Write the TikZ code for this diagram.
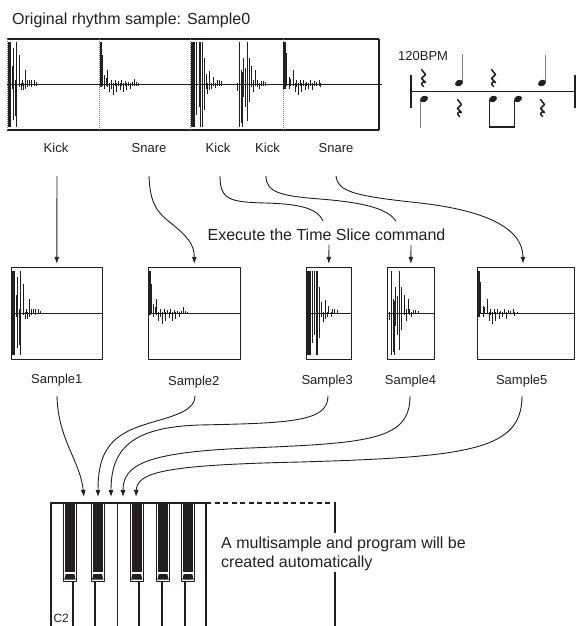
\documentclass[tikz,border=0pt]{standalone}
\usepackage{fontspec}
\setmainfont{Liberation Sans}
\usetikzlibrary{arrows.meta}
\definecolor{ink}{HTML}{231F20}
\newcommand\bigtxt{\fontsize{16}{19}\selectfont}
\newcommand\smtxt{\fontsize{13}{15}\selectfont}
\newcommand\cctxt{\fontsize{12}{14}\selectfont}
\newcommand\wave[3]{%
  \foreach \wa/\wb/\wc in #3 {\draw[wbar] ({#1+\wa},{#2-\wb*42}) -- ({#1+\wa},{#2+\wc*42});}}
\newcommand\qrest[2]{%
  \draw[ink, line width=1.5pt, line cap=round, shift={(#1,#2)}]
    (-1.5,-8.5) -- (2.5,-3.5) -- (-1.5,0.5) -- (2.5,4.5)
    .. controls (-1.5,2.5) and (-2.5,6.5) .. (0.5,8.5);}
\newcommand\nhead[2]{%
  \fill[ink, rotate around={25:(#1,#2)}] (#1,#2) ellipse (4.2 and 3);}
\def\kickA{1.2/1/1, 2.2/1/1, 3.2/1/1, 5/0.44/0.1, 6.3/0.86/0.84, 8/0.1/0.75, 9.7/1/1, 12.7/0.7/0.05, 14/0.03/0.14, 15/0.1/0.03, 16.7/0.03/0.14, 18.7/0.35/0.1, 20.7/0.1/0.05, 22.7/0.11/0.03, 24.7/0.1/0.05, 27/0.1/0.03, 29.3/0.06/0.03}
\def\snareA{1/1/0.05, 2/1/0.05, 3.3/0.7/0.03, 5.3/0.22/0.1, 7/0.15/0.03, 8.3/0.34/0.05, 10.3/0.03/0.18, 12/0.1/0.1, 14.3/0.03/0.26, 16/0.1/0.03, 17.7/0.03/0.18, 19.3/0.08/0.03, 21/0.03/0.12, 22.7/0.1/0.03, 24.3/0.03/0.18, 26/0.08/0.03, 27.7/0.03/0.14, 29.3/0.06/0.03, 31/0.03/0.1, 33.3/0.05/0.03, 35.3/0.14/0.03, 37.7/0.06/0.03, 39.3/0.03/0.03}
\def\kickB{1/1/1, 2/1/1, 3/1/1, 4/1/1, 6/1/0.72, 8.3/1/0.53, 10/1/1, 11.7/1/1, 13.7/0.62/0.6, 15.3/0.26/0.1, 17/0.03/0.22, 19/0.32/0.14, 21/0.03/0.1, 22.7/0.18/0.03, 25/0.03/0.08, 26.7/0.11/0.03, 28.7/0.1/0.03, 31/0.08/0.03}
\def\kickC{0.7/0.03/0.15, 2.7/1/1, 4.3/0.34/0.92, 5.7/0.3/1, 6.7/0.62/0.3, 8.3/0.4/0.53, 10.3/1/0.88, 12.7/0.62/0.41, 15/0.44/0.05, 17/0.1/0.18, 19/0.34/0.03, 20.7/0.1/0.05, 22.3/0.03/0.1, 24.3/0.08/0.03, 26.7/0.08/0.03, 29/0.06/0.03}
\def\snareB{0.6/1/0.1, 1.5/1/0.1, 2.4/1/0.1, 3.3/0.75/0.03, 6/0.18/0.1, 7.3/0.14/0.03, 10/0.34/0.03, 11.7/0.03/0.18, 13.3/0.11/0.05, 15/0.03/0.26, 16.7/0.1/0.03, 18.3/0.03/0.18, 20/0.1/0.03, 21.7/0.03/0.14, 23.3/0.06/0.03, 25/0.03/0.1, 27.3/0.1/0.03, 29/0.03/0.14, 31/0.08/0.03, 33.3/0.06/0.03, 35.7/0.11/0.03, 37.3/0.03/0.06, 40/0.02/0.02}
\begin{document}
\begin{tikzpicture}[x=1pt,y=-1pt, line join=round,
  every node/.style={text=ink, inner sep=0pt},
  lbl/.style={font=\smtxt, anchor=base},
  big/.style={font=\bigtxt, anchor=base west},
  sbox/.style={draw=ink, line width=1.1pt, minimum height=91.7pt},
  wbar/.style={draw=ink, line width=1pt},
  arr/.style={draw=ink, line width=0.9pt, -{Latex[length=7pt,width=5pt]}},
  divider/.style={draw=gray, densely dotted, line width=1pt},
  bkey/.style={draw=ink, line width=0.9pt, fill=white},
]
\useasboundingbox (0,0) rectangle (578,626);

% ---------- title ----------
\node[big] (title) at (12,25) {Original rhythm sample: Sample0};

% ---------- original sample box ----------
\draw[ink, line width=1.6pt] (7,39) -- (379,39);
\draw[ink, line width=1.6pt] (7,130) -- (379,130);
\draw[ink, line width=1.1pt] (379,39) -- (379,130);
\foreach \xx in {7,99,190.5,283.3} \draw[divider] (\xx,39) -- (\xx,130);
\draw[ink, line width=1pt] (7,84.5) -- (382,84.5);
\wave{7}{84.5}{\kickA}
\wave{99}{84.5}{\snareA}
\wave{190.7}{84.5}{\kickB}
\wave{236.7}{84.5}{\kickC}
\wave{283.3}{84.5}{\snareB}

% ---------- notation ----------
\node[font=\smtxt, anchor=base west] (bpm) at (398,60) {120BPM};
\draw[ink, line width=1pt] (411,91.7) -- (575,91.7);
\draw[ink, line width=2pt] (411,75) -- (411,108);
\draw[ink, line width=2pt] (575,75) -- (575,108);
\qrest{423}{78}
\qrest{493}{78}
\qrest{459}{108}
\qrest{542}{108}
\draw[gray, line width=0.9pt] (462.6,82) -- (462.6,54);
\draw[gray, line width=0.9pt] (545.6,82) -- (545.6,55);
\draw[gray, line width=0.9pt] (420.4,100) -- (420.4,128);
\draw[ink, line width=0.9pt] (489.4,100) -- (489.4,127);
\draw[ink, line width=0.9pt] (514.4,100) -- (514.4,127);
\draw[ink, line width=2pt] (489,127) -- (514.8,127);
\nhead{459}{83}
\nhead{542}{83}
\nhead{424}{99}
\nhead{493}{99}
\nhead{518}{99}

% ---------- labels ----------
\node[lbl] (l1) at (56,152) {Kick};
\node[lbl] (l2) at (149,152) {Snare};
\node[lbl] (l3) at (218,152) {Kick};
\node[lbl] (l4) at (267.5,152) {Kick};
\node[lbl] (l5) at (336,152) {Snare};
\coordinate (t1) at (57,176);
\coordinate (t2) at (149,176);
\coordinate (t3) at (220,176);
\coordinate (t4) at (266,176);
\coordinate (t5) at (336,176);
\coordinate (e3) at (323,221);
\coordinate (e4) at (396,221);
\coordinate (f3) at (329,245);
\coordinate (f4) at (411,245);

\node[big] (exec) at (207.4,240) {Execute the Time Slice command};

% ---------- sample boxes ----------
\node[sbox, minimum width=91pt] (b1) at (56.8,313.2) {};
\node[sbox, minimum width=92pt] (b2) at (194.3,313.2) {};
\node[sbox, minimum width=45pt] (b3) at (328.8,313.2) {};
\node[sbox, minimum width=47pt] (b4) at (410.8,313.2) {};
\node[sbox, minimum width=97pt] (b5) at (525.8,313.2) {};
\foreach \b in {b1,b2,b3,b4,b5} \draw[ink, line width=1pt] (\b.west) -- (\b.east);
\wave{11}{313.2}{\kickA}
\wave{148}{313.2}{\snareA}
\wave{306}{313.2}{\kickB}
\wave{389}{313.2}{\kickC}
\wave{477.5}{313.2}{\snareB}

% ---------- upper arrows ----------
\draw[arr] (t1) -- ([yshift=3pt]b1.north);
\draw[arr] (t2) .. controls (150,205) and (158,213) .. (172,224)
                .. controls (188,237) and (194.3,245) .. ([yshift=3pt]b2.north);
\draw[ink, line width=0.9pt] (t3) .. controls (220,200) and (230,202) .. (265,203)
                .. controls (305,204) and (318,210) .. (e3);
\draw[ink, line width=0.9pt] (t4) .. controls (266,192) and (280,196) .. (320,199)
                .. controls (370,203) and (388,210) .. (e4);
\draw[arr] (f3) -- ([yshift=3pt]b3.north);
\draw[arr] (f4) -- ([yshift=3pt]b4.north);
\draw[arr] (t5) .. controls (338,192) and (355,196) .. (420,203)
                .. controls (490,211) and (523,230) .. ([xshift=-2.8pt,yshift=3pt]b5.north);

% ---------- sample labels ----------
\node[lbl] (s1) at (56.8,383) {Sample1};
\node[lbl] (s2) at (193.8,385) {Sample2};
\node[lbl] (s3) at (327.2,384) {Sample3};
\node[lbl] (s4) at (410.5,384) {Sample4};
\node[lbl] (s5) at (521.7,384) {Sample5};
\coordinate (u1) at (57,396);
\coordinate (u2) at (195,396);
\coordinate (u3) at (328,396);
\coordinate (u4) at (410,396);
\coordinate (u5) at (522,396);
\coordinate (k1) at (84,497);
\coordinate (k2) at (98,497);
\coordinate (k3) at (111,497);
\coordinate (k4) at (123,497);
\coordinate (k5) at (136,497);

% ---------- lower arrows ----------
\draw[arr] (u1) .. controls (58,440) and (80,460) .. (k1);
\draw[arr] (u2) .. controls (195,415) and (160,418) .. (135,428)
                .. controls (105,440) and (98,460) .. (k2);
\draw[arr] (u3) .. controls (328,422) and (290,423) .. (200,425)
                .. controls (130,427) and (111,450) .. (k3);
\draw[arr] (u4) .. controls (410,440) and (370,443) .. (250,448)
                .. controls (145,452) and (123,465) .. (k4);
\draw[arr] (u5) .. controls (522,450) and (470,457) .. (300,462)
                .. controls (165,465) and (137,472) .. (k5);

% ---------- keyboard ----------
\draw[ink, line width=1.1pt] (51,626) -- (51,503) -- (206,503) -- (206,626);
\draw[ink, line width=1.1pt] (117.3,503) -- (117.3,626);
\foreach \l in {73.3,95,139.3,162.3,185} \draw[ink, line width=1.8pt] (\l,581) -- (\l,626);
\foreach \c in {70,97.7,136.7,163,188} {
  \draw[bkey] ({\c-6.7},503) rectangle ({\c+6.7},581);
  \fill[ink] ({\c-4.8},503) rectangle ({\c+4.8},571.5);
  \fill[ink] ({\c-4.3},574) -- ({\c+4.3},574) -- ({\c+5.6},579.5) -- ({\c-5.6},579.5) -- cycle;
}
\node[font=\cctxt, anchor=base west] (c2) at (53.3,622) {C2};

\draw[ink, line width=1.1pt, dashed, dash pattern=on 5pt off 3.5pt] (206,503) -- (333,503);
\draw[ink, line width=1.1pt] (335,502) -- (335,533);
\draw[ink, line width=1.1pt] (335,572) -- (335,626);
\node[big] (note1) at (221,548) {A multisample and program will be};
\node[big] (note2) at (221,567) {created automatically};
\end{tikzpicture}
\end{document}
